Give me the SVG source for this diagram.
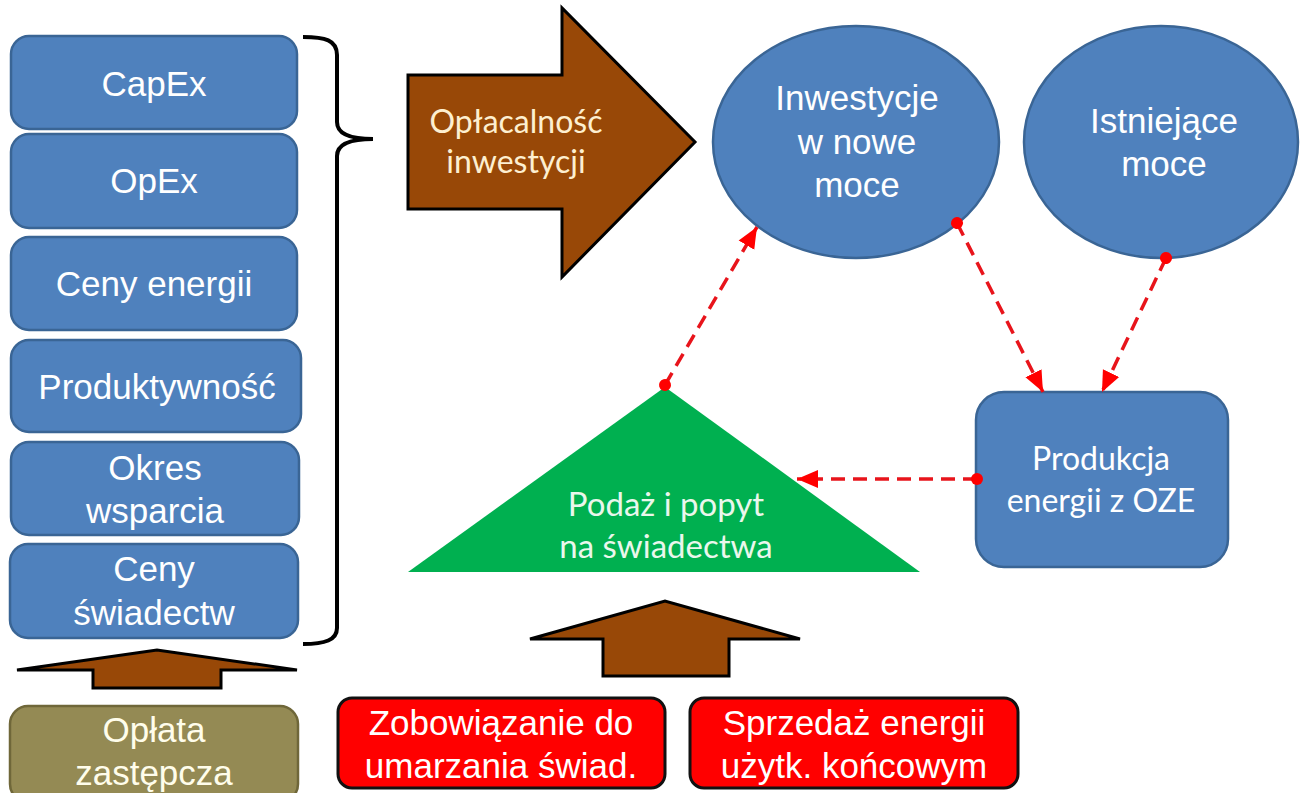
<svg xmlns="http://www.w3.org/2000/svg" width="1300" height="793" viewBox="0 0 1300 793">
<defs>
<style>
.bl{fill:#4F81BD;stroke:#3A6595;stroke-width:2.5}
.ar{font-family:"Liberation Sans",Arial,sans-serif;font-size:35px;fill:#fff;text-anchor:middle}
.cb{font-family:Lato,"Noto Sans",sans-serif;font-size:32px;text-anchor:middle}
.brown{fill:#984807;stroke:#000;stroke-width:3;stroke-linejoin:miter}
.red{fill:#FF0000;stroke:#111;stroke-width:3}
.conn{stroke:#E8141B;stroke-width:3.5;stroke-dasharray:14 8;fill:none;marker-start:url(#dot);marker-end:url(#tri)}
</style>
<marker id="tri" markerUnits="userSpaceOnUse" markerWidth="24" markerHeight="24" viewBox="0 0 24 24" refX="21" refY="12" orient="auto">
<path d="M0,3 L21,12 L0,21 z" fill="#FF0000"/>
</marker>
<marker id="dot" markerUnits="userSpaceOnUse" markerWidth="14" markerHeight="14" viewBox="0 0 14 14" refX="7" refY="7" orient="auto">
<circle cx="7" cy="7" r="6" fill="#FF0000"/>
</marker>
</defs>
<rect width="1300" height="793" fill="#fff"/>

<g id="capex"><rect class="bl" x="11" y="36" width="286" height="93" rx="18"/><text class="ar" x="154" y="96">CapEx</text></g>
<g id="opex"><rect class="bl" x="11" y="134" width="286" height="94" rx="18"/><text class="ar" x="154" y="193">OpEx</text></g>
<g id="ceny-energii"><rect class="bl" x="11" y="237" width="286" height="93" rx="18"/><text class="ar" x="154" y="296">Ceny energii</text></g>
<g id="produktywnosc"><rect class="bl" x="11" y="340" width="290" height="92" rx="18"/><text class="ar" x="157" y="399">Produktywność</text></g>
<g id="okres"><rect class="bl" x="11" y="442" width="288" height="93" rx="18"/><text class="ar" x="155" y="480">Okres</text><text class="ar" x="155" y="523">wsparcia</text></g>
<g id="ceny-swiadectw"><rect class="bl" x="10" y="544" width="288" height="94" rx="18"/><text class="ar" x="154" y="581">Ceny</text><text class="ar" x="154" y="625">świadectw</text></g>

<g id="brace"><path d="M303,37 C325,37 337,40 337,55 L337,122 C337,134 350,139 373,139 C350,139 337,144 337,156 L337,628 C337,640 325,644 303,644" fill="none" stroke="#000" stroke-width="4"/></g>

<g id="arrow-left"><path class="brown" d="M93,688 L93,670 L17,670 L157,650 L297,670 L221,670 L221,688 Z"/></g>

<g id="oplata"><rect x="10" y="706" width="288" height="96" rx="18" fill="#948A54" stroke="#6F6739" stroke-width="2.5"/><text class="ar" x="154" y="742" style="fill:#FFFDEB">Opłata</text><text class="ar" x="154" y="785" style="fill:#FFFDEB">zastępcza</text></g>

<g id="oplacalnosc"><path class="brown" d="M408,75 L562,75 L562,8 L695,142 L562,277 L562,209 L408,209 Z"/><text class="cb" x="516" y="133" fill="#FDEFD0">Opłacalność</text><text class="cb" x="516" y="173" fill="#FDEFD0">inwestycji</text></g>

<g id="inwestycje"><ellipse class="bl" cx="856" cy="142" rx="143" ry="116"/><text class="ar" x="857" y="110">Inwestycje</text><text class="ar" x="857" y="154">w nowe</text><text class="ar" x="857" y="197">moce</text></g>

<g id="istniejace"><ellipse class="bl" cx="1161" cy="142" rx="137" ry="116"/><text class="ar" x="1164" y="133">Istniejące</text><text class="ar" x="1164" y="176">moce</text></g>

<g id="podaz"><path d="M665,387 L920,572 L408,572 Z" fill="#00B050"/><text class="cb" x="666" y="516" fill="#EAF7EC" style="font-size:33px">Podaż i popyt</text><text class="cb" x="666" y="558" fill="#EAF7EC" style="font-size:33px">na świadectwa</text></g>

<g id="produkcja"><rect class="bl" x="976" y="392" width="252" height="175" rx="28"/><text class="cb" x="1101" y="470" fill="#fff">Produkcja</text><text class="cb" x="1101" y="512" fill="#fff">energii z OZE</text></g>

<g id="arrow-mid"><path class="brown" d="M603,676 L603,639 L530,639 L665,601 L800,639 L729,639 L729,676 Z"/></g>

<g id="zobowiazanie"><rect class="red" x="338" y="698" width="327" height="90" rx="14"/><text class="ar" x="501" y="735">Zobowiązanie do</text><text class="ar" x="501" y="778">umarzania świad.</text></g>

<g id="sprzedaz"><rect class="red" x="690" y="698" width="328" height="90" rx="14"/><text class="ar" x="854" y="735">Sprzedaż energii</text><text class="ar" x="854" y="778">użytk. końcowym</text></g>

<g id="connectors">
<line class="conn" x1="665" y1="385" x2="757" y2="227"/>
<line class="conn" x1="957" y1="223" x2="1043" y2="392"/>
<line class="conn" x1="1166" y1="258" x2="1102" y2="392"/>
<line class="conn" x1="977" y1="479" x2="797" y2="479"/>
</g>
</svg>
